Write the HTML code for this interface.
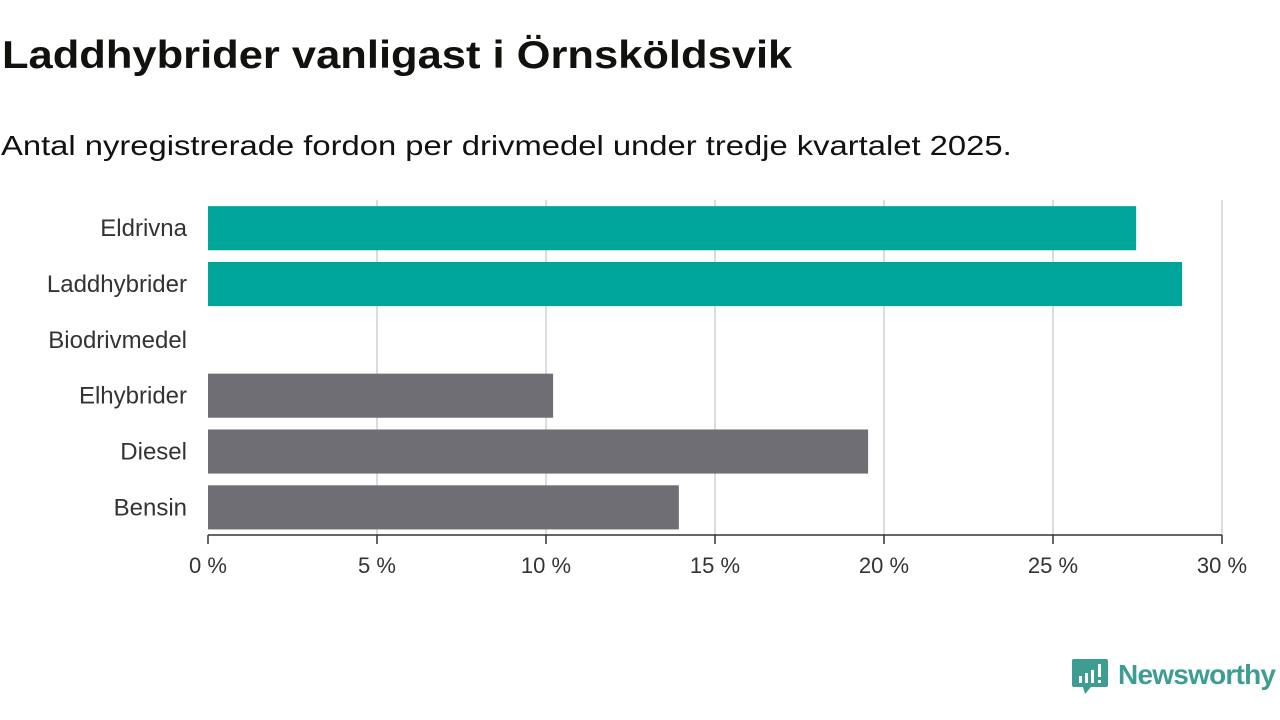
<!DOCTYPE html>
<html><head><meta charset="utf-8"><style>
body{margin:0;width:1280px;height:720px;background:#fff;font-family:"Liberation Sans","DejaVu Sans",sans-serif;overflow:hidden;position:relative;color:#111}
h1{position:absolute;left:2px;top:34px;margin:0;font-size:39px;font-weight:bold;color:#11110d;transform:scaleX(1.115);transform-origin:left top;white-space:nowrap}
.sub{position:absolute;left:1px;top:130px;font-size:28px;color:#111;transform:scaleX(1.17);transform-origin:left top;white-space:nowrap}
svg{position:absolute;left:0;top:0}
</style></head><body>
<h1>Laddhybrider vanligast i Örnsköldsvik</h1>
<div class="sub">Antal nyregistrerade fordon per drivmedel under tredje kvartalet 2025.</div>
<svg id="chart" width="1280" height="720"></svg>
<svg width="1280" height="720" style="pointer-events:none">
<path d="M1074 659 h32 a2 2 0 0 1 2 2 v24 a2 2 0 0 1 -2 2 h-15 l-6 7 l-2 -7 h-9 a2 2 0 0 1 -2 -2 v-24 a2 2 0 0 1 2 -2z" fill="#3d9d93"/>
<rect x="1079" y="676" width="3" height="7" fill="#fff"/><rect x="1085" y="673" width="3" height="10" fill="#fff"/><rect x="1091" y="670" width="3" height="13" fill="#fff"/><rect x="1098" y="664" width="3" height="13" fill="#fff"/><rect x="1098" y="680" width="3" height="3" fill="#fff"/>
<text x="1118" y="684" font-size="28" font-weight="bold" fill="#3d9d93" font-family="Liberation Sans, sans-serif" textLength="158">Newsworthy</text>
</svg>
<script>
const categories=["Eldrivna","Laddhybrider","Biodrivmedel","Elhybrider","Diesel","Bensin"];
const values=[27.46,28.82,0,10.21,19.53,13.93];
const colors=["#00a599","#00a599","#00a599","#6f6e74","#6f6e74","#6f6e74"];
const ticks=[0,5,10,15,20,25,30];
const tickLabels=["0 %","5 %","10 %","15 %","20 %","25 %","30 %"];
(function(){
const svg=document.getElementById('chart');
const NS="http://www.w3.org/2000/svg";
const x0=208,x1=1222,xmax=30,plotTop=200,plotBottom=535;
const x=v=>x0+(x1-x0)*v/xmax;
const band=(plotBottom-plotTop)/categories.length;
const y=i=>plotTop+i*band;
function mk(t,a){const e=document.createElementNS(NS,t);for(const k in a)e.setAttribute(k,a[k]);svg.appendChild(e);return e;}
ticks.forEach((t,i)=>{
 if(i>0){const g=mk('line',{x1:x(t),x2:x(t),y1:plotTop,y2:plotBottom,stroke:'#dcdcdc','stroke-width':2});
 
 }
 const tk=mk('line',{x1:x(t),x2:x(t),y1:plotBottom,y2:plotBottom+9,stroke:'#333','stroke-width':1.5});
 
 
 const l=mk('text',{x:x(t),y:plotBottom+38,'text-anchor':'middle','font-size':22,fill:'#333'});
 l.textContent=tickLabels[i];
 
 
});
categories.forEach((c,i)=>{
 const yy=y(i)+band*0.11,h=band*0.79;
 const r=mk('rect',{x:x0,y:yy,width:x(values[i])-x0,height:h,fill:colors[i]});
 
 
 const t=mk('text',{x:187,y:yy+h/2+8,'text-anchor':'end','font-size':24,fill:'#333'});
 t.textContent=c;
 
 
});
const ax=mk('line',{x1:x0,x2:x1,y1:plotBottom,y2:plotBottom,stroke:'#333','stroke-width':1.5});


})();
</script>
</body></html>
